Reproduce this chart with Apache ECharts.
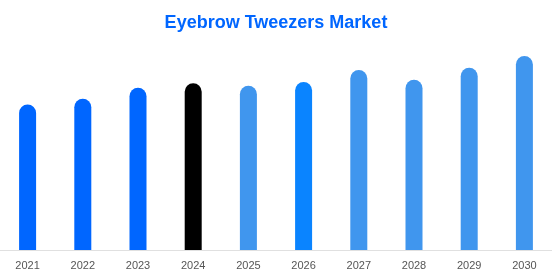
<!DOCTYPE html>
<html><head><meta charset="utf-8">
<script src="https://cdn.jsdelivr.net/npm/echarts@6/dist/echarts.min.js"></script>
<style>html,body{margin:0;padding:0;background:#fff}#c{width:552px;height:276px}</style>
</head><body><div id="c"></div>
<script>
const categories = ['2021','2022','2023','2024','2025','2026','2027','2028','2029','2030'];
const values = [145.5, 151.3, 162.3, 166.7, 164.3, 168, 180, 170.3, 182.3, 194];
const barColors = ['#0066FF','#0066FF','#0066FF','#000000','#4096EE','#0A84FF','#4096EE','#4096EE','#4096EE','#4096EE'];
const titleText = 'Eyebrow Tweezers Market';

const chart = echarts.init(document.getElementById('c'));
chart.setOption({
  animation: false,
  title: { text: titleText, left: 'center', top: 9,
    textStyle: { color: '#0066FF', fontSize: 18, fontWeight: 'bold', fontFamily: 'Liberation Sans, Arial, sans-serif' } },
  grid: { left: 0, right: 0, top: 50, bottom: 26 },
  xAxis: { type: 'category', data: categories,
    axisLine: { lineStyle: { color: '#e0e0e0' } }, axisTick: { show: false },
    axisLabel: { color: '#555', fontSize: 11, margin: 10, fontFamily: 'Liberation Sans, Arial, sans-serif' } },
  yAxis: { type: 'value', min: 0, max: 200, show: false },
  series: [{ type: 'bar', barWidth: 17,
    data: values.map((v, i) => ({ value: v, itemStyle: { color: barColors[i] } })),
    itemStyle: { borderRadius: [8.5, 8.5, 0, 0] } }]
});
</script></body></html>
